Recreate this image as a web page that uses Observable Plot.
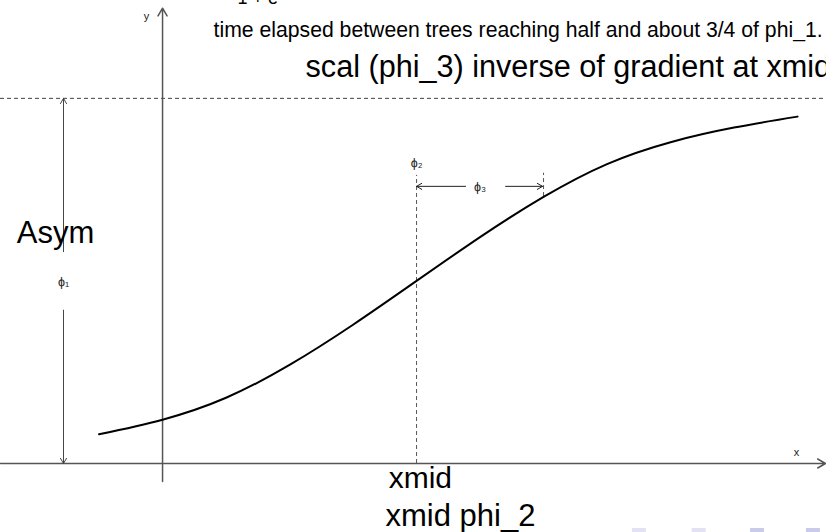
<!DOCTYPE html>
<html>
<head>
<meta charset="utf-8">
<script src="https://cdn.jsdelivr.net/npm/d3@7"></script>
<script src="https://cdn.jsdelivr.net/npm/@observablehq/plot@0.6"></script>
<style>
  html, body { margin: 0; padding: 0; background: #fff; }
  #chart svg { display: block; }
</style>
</head>
<body>
<div id="chart"></div>
<script>
// Logistic growth curve (x in units of scal, y in units of Asym)
const curveX = [-0.5, 0, 0.5, 1, 1.5, 2, 2.5, 3, 3.5, 4, 4.5, 5];
const curveY = [0.08, 0.12, 0.18, 0.27, 0.38, 0.50, 0.62, 0.73, 0.82, 0.88, 0.92, 0.95];

// Parameters of the sketch
const asym = 1;      // phi_1
const xmid = 2;      // phi_2
const scal = 1;      // phi_3

// Labels
const bigLabels = ["Asym", "xmid", "xmid phi_2", "scal (phi_3) inverse of gradient at xmid"];
const noteLabel = "time elapsed between trees reaching half and about 3/4 of phi_1.";
const axisLabels = ["x", "y"];
const greekLabels = ["ϕ₁", "ϕ₂", "ϕ₃"];

// faint marks clipped at the bottom edge
const markX = [3.70, 4.17, 4.63, 5.07];
const markShade = ["#e2e2f4", "#e2e2f4", "#cacaea", "#cacaea"];

const curve = curveX.map((x, i) => ({x, y: curveY[i]}));

const W = 826, H = 532;
const xDom = [-1.276, 5.228];
const yDom = [-0.189, 1.268];
const font = "Liberation Sans, Arial, Helvetica, sans-serif";
const axisCol = "#555";

const plot = Plot.plot({
  width: W,
  height: H,
  margin: 0,
  x: {domain: xDom, axis: null},
  y: {domain: yDom, axis: null},
  style: {fontFamily: font, background: "#fff"},
  marks: [
    // asymptote (dashed)
    Plot.ruleY([asym], {stroke: "#444", strokeWidth: 1, strokeDasharray: "4,3"}),
    // xmid dashed vertical
    Plot.ruleX([xmid], {y1: 0, y2: 0.789, stroke: "#555", strokeWidth: 1, strokeDasharray: "4,3"}),
    // xmid + scal short dashed
    Plot.ruleX([xmid + scal], {y1: 0.731, y2: 0.795, stroke: "#555", strokeWidth: 1, strokeDasharray: "4,3"}),
    // axes
    Plot.arrow([{x1: xDom[0], y1: 0, x2: 5.22, y2: 0}], {x1: "x1", y1: "y1", x2: "x2", y2: "y2", stroke: axisCol, strokeWidth: 1.5, headLength: 9}),
    Plot.arrow([{x1: 0, y1: -0.049, x2: 0, y2: 1.247}], {x1: "x1", y1: "y1", x2: "x2", y2: "y2", stroke: axisCol, strokeWidth: 1.5, headLength: 9}),
    // Asym double arrow
    Plot.arrow([
      {x1: -0.78, y1: 0.58, x2: -0.78, y2: asym},
      {x1: -0.78, y1: 0.42, x2: -0.78, y2: 0}
    ], {x1: "x1", y1: "y1", x2: "x2", y2: "y2", stroke: "#444", strokeWidth: 1, headLength: 9}),
    // scal arrows
    Plot.arrow([
      {x1: 2.386, y1: 0.759, x2: xmid, y2: 0.759},
      {x1: 2.701, y1: 0.759, x2: xmid + scal - 0.008, y2: 0.759}
    ], {x1: "x1", y1: "y1", x2: "x2", y2: "y2", stroke: "#222", strokeWidth: 1, headLength: 9}),
    // the logistic curve
    Plot.line(curve, {x: "x", y: "y", curve: "natural", stroke: "#000", strokeWidth: 2}),
    // greek labels
    Plot.text([
      {t: greekLabels[0], x: -0.78, y: 0.496},
      {t: greekLabels[1], x: 2.0, y: 0.822},
      {t: greekLabels[2], x: 2.50, y: 0.757}
    ], {x: "x", y: "y", text: "t", fontSize: 12.5, fill: "#222"}),
    // axis letters
    Plot.text([
      {t: axisLabels[0], x: 4.992, y: 0.030},
      {t: axisLabels[1], x: -0.126, y: 1.225}
    ], {x: "x", y: "y", text: "t", fontSize: 11, fill: "#222"}),
    // big labels
    Plot.text([{t: bigLabels[0], x: -0.843, y: 0.632}], {x: "x", y: "y", text: "t", fontSize: 31, fill: "#000"}),
    Plot.text([{t: bigLabels[1], x: 2.03, y: -0.040}], {x: "x", y: "y", text: "t", fontSize: 30, fill: "#000"}),
    Plot.text([{t: bigLabels[2], x: 2.346, y: -0.145}], {x: "x", y: "y", text: "t", fontSize: 31, fill: "#000"}),
    Plot.text([{t: bigLabels[3], x: 1.126, y: 1.085}], {x: "x", y: "y", text: "t", fontSize: 30.6, textAnchor: "start", fill: "#000"}),
    Plot.text([{t: noteLabel, x: 0.402, y: 1.186}], {x: "x", y: "y", text: "t", fontSize: 21.2, textAnchor: "start", fill: "#000"}),
    // clipped formula at the very top
    Plot.text([{t: "1 + e", x: 0.75, y: 1.275}], {x: "x", y: "y", text: "t", fontSize: 18, fill: "#000"}),
    Plot.text([{t: "−(x − ϕ₂)/ϕ₃", x: 1.15, y: 1.290}], {x: "x", y: "y", text: "t", fontSize: 13, fill: "#000"}),
    // faint marks at bottom edge
    Plot.rect(markX.map((x, i) => ({x, c: markShade[i]})), {
      x1: d => d.x, x2: d => d.x + 0.11, y1: -0.178, y2: -0.19, fill: "c"
    })
  ]
});
document.getElementById("chart").appendChild(plot);
</script>
</body>
</html>
